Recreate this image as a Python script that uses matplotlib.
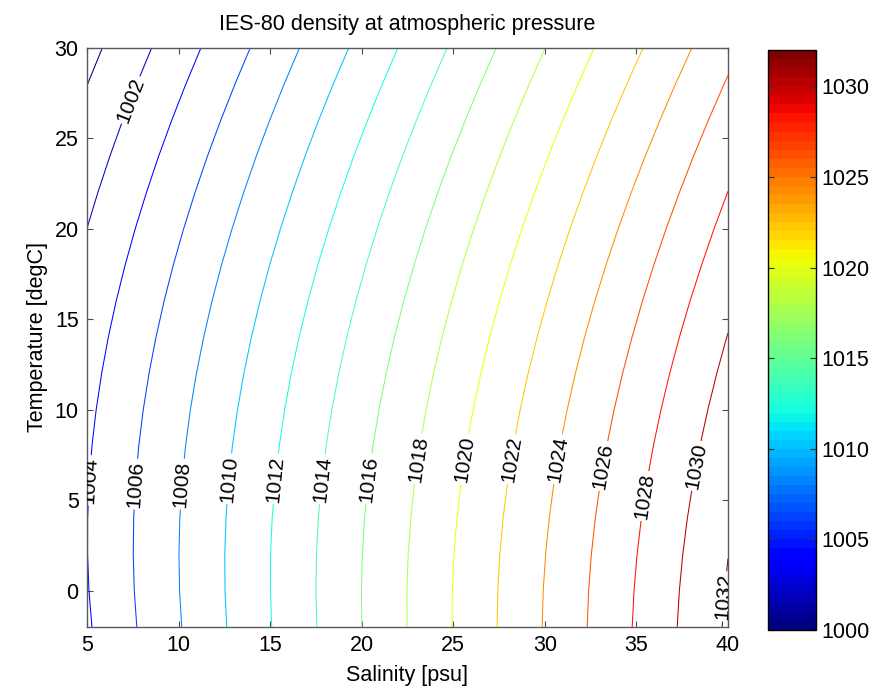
import matplotlib
matplotlib.use("Agg")
import matplotlib.pyplot as plt
import numpy as np
from matplotlib.colors import Normalize

plt.rcParams["font.family"] = ["Liberation Sans", "DejaVu Sans"]

fontsize = 15.5

# salinity [psu] columns and temperature [degC] rows of the density table
salinity = [5, 10, 15, 20, 25, 30, 35, 40]
temperature = [-2, 0, 2, 4, 6, 8, 10, 12, 14, 16, 18, 20, 22, 24, 26, 28, 30]

# density [kg/m3] at atmospheric pressure, one row per temperature
density = [
    [1003.780, 1007.860, 1011.928, 1015.992, 1020.054, 1024.119, 1028.187, 1032.260],
    [1003.913, 1007.955, 1011.986, 1016.014, 1020.041, 1024.072, 1028.106, 1032.147],
    [1003.976, 1007.983, 1011.980, 1015.974, 1019.969, 1023.968, 1027.972, 1031.982],
    [1003.974, 1007.947, 1011.913, 1015.877, 1019.842, 1023.811, 1027.786, 1031.769],
    [1003.910, 1007.853, 1011.789, 1015.725, 1019.662, 1023.604, 1027.553, 1031.509],
    [1003.788, 1007.703, 1011.612, 1015.521, 1019.433, 1023.350, 1027.274, 1031.207],
    [1003.612, 1007.501, 1011.385, 1015.269, 1019.157, 1023.051, 1026.952, 1030.862],
    [1003.384, 1007.249, 1011.110, 1014.971, 1018.837, 1022.710, 1026.590, 1030.479],
    [1003.108, 1006.950, 1010.789, 1014.630, 1018.475, 1022.327, 1026.188, 1030.058],
    [1002.785, 1006.607, 1010.426, 1014.247, 1018.073, 1021.906, 1025.749, 1029.601],
    [1002.417, 1006.220, 1010.021, 1013.824, 1017.632, 1021.448, 1025.273, 1029.108],
    [1002.008, 1005.793, 1009.576, 1013.362, 1017.154, 1020.954, 1024.763, 1028.583],
    [1001.557, 1005.326, 1009.093, 1012.864, 1016.640, 1020.425, 1024.219, 1028.024],
    [1001.068, 1004.822, 1008.574, 1012.330, 1016.092, 1019.863, 1023.643, 1027.434],
    [1000.541, 1004.281, 1008.020, 1011.762, 1015.511, 1019.268, 1023.035, 1026.813],
    [999.978, 1003.705, 1007.431, 1011.161, 1014.897, 1018.642, 1022.397, 1026.163],
    [999.380, 1003.095, 1006.809, 1010.527, 1014.252, 1017.985, 1021.729, 1025.483],
]

levels = list(range(1000, 1033, 2))
cbar_ticks = [1000, 1005, 1010, 1015, 1020, 1025, 1030]

# where the contour labels sit (salinity, temperature)
label_spots = [
    (7.2, 27.2), (5.15, 6.1), (7.6, 5.9), (10.1, 5.9), (12.7, 6.2), (15.2, 6.2),
    (17.6, 6.2), (20.3, 6.2), (23.1, 7.3), (25.5, 7.3), (28.0, 7.3), (30.6, 7.3),
    (33.2, 6.9), (35.7, 5.2), (38.3, 6.9), (39.7, -0.3),
]

cmap = plt.get_cmap("jet", 64)
norm = Normalize(vmin = 1000, vmax = 1032)

fig = plt.figure(figsize = (8.77, 6.86), dpi = 100)
ax = fig.add_axes([87/877, 1 - 627/686, 641/877, 579/686])
cax = fig.add_axes([768/877, 1 - 630/686, 47.5/877, 580/686])

cs = ax.contour( salinity, temperature, np.array(density)
               , levels = levels
               , cmap = cmap
               , norm = norm
               , linewidths = 0.75
               )
labels = ax.clabel( cs
                  , fmt = "%d"
                  , manual = label_spots
                  , inline = True
                  , inline_spacing = 2
                  , fontsize = 15
                  , colors = "k"
                  )
for t in labels:
    t.set_clip_on(True)

ax.set_xlim(5, 40)
ax.set_ylim(-2, 30)
ax.set_xticks(range(5, 41, 5))
ax.set_yticks(range(0, 31, 5))
ax.tick_params(direction = "in", top = True, right = True, length = 4, width = 0.8,
               labelsize = fontsize, color = "0.3", pad = 6)
for sp in ax.spines.values():
    sp.set_color("0.35")
    sp.set_linewidth(1.0)

ax.set_title("IES-80 density at atmospheric pressure", fontsize = fontsize, pad = 13)
ax.set_xlabel("Salinity [psu]", fontsize = fontsize, labelpad = 6)
ax.set_ylabel("Temperature [degC]", fontsize = fontsize, labelpad = 5)

sm = plt.cm.ScalarMappable(norm = norm, cmap = cmap)
cb = fig.colorbar(sm, cax = cax, ticks = cbar_ticks)
cax.tick_params(direction = "in", left = True, right = True, length = 4, width = 0.8,
                labelsize = fontsize, color = "0.2", pad = 4)
cb.outline.set_linewidth(1.0)

plt.savefig("out.png", dpi = 100)
